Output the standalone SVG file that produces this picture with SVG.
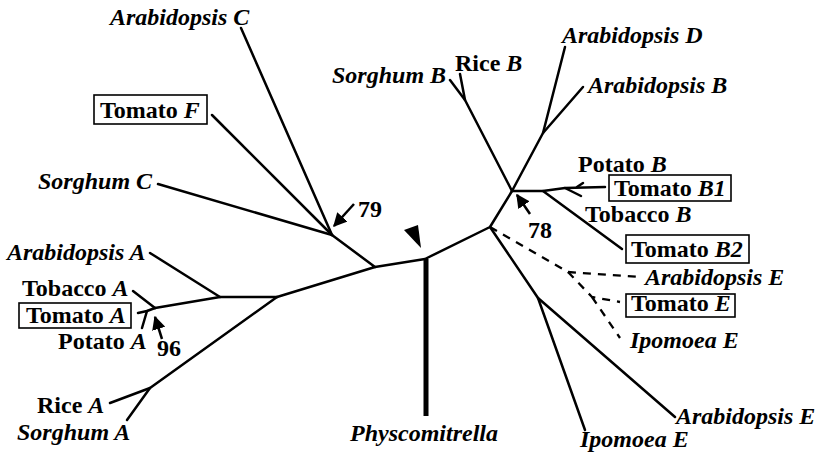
<svg xmlns="http://www.w3.org/2000/svg" width="816" height="458" viewBox="0 0 816 458">
<style>
text{font-family:"Liberation Serif","Times New Roman",serif;font-weight:bold;font-size:24px;fill:#000}
.i{font-style:italic}
.br{fill:none;stroke:#000;stroke-width:2.5;stroke-linecap:round;stroke-linejoin:round}
.da{fill:none;stroke:#000;stroke-width:2.3;stroke-dasharray:8 7}
.bx{fill:none;stroke:#000;stroke-width:1.6}
.ar{fill:none;stroke:#000;stroke-width:2.5}
</style>
<defs>
<marker id="ah" viewBox="0 0 10 10" refX="9" refY="5" markerWidth="5.5" markerHeight="5.5" orient="auto" markerUnits="strokeWidth">
<path d="M0,0 L10,5 L0,10 z" fill="#000"/>
</marker>
</defs>
<rect width="816" height="458" fill="#fff"/>
<g id="connectors">
<polyline class="br" points="375,267 425,259 490,227 512,191"/>
<line x1="426" y1="259" x2="426" y2="416" stroke="#000" stroke-width="5"/>
<polyline class="br" points="277,297 375,267 332,235"/>
<line class="br" x1="332" y1="235" x2="158" y2="184"/>
<line class="br" x1="332" y1="235" x2="212" y2="115"/>
<line class="br" x1="332" y1="235" x2="241" y2="28"/>
<polyline class="br" points="512,191 465,100 450,80"/>
<line class="br" x1="465" y1="100" x2="460" y2="74"/>
<polyline class="br" points="512,191 543,133 565,47"/>
<line class="br" x1="543" y1="133" x2="583" y2="87"/>
<polyline class="br" points="512,191 543,191 565,188 605,187"/>
<line class="br" x1="577" y1="187" x2="583" y2="183"/>
<line class="br" x1="565" y1="188" x2="581" y2="196"/>
<line class="br" x1="543" y1="191" x2="622" y2="249"/>
<polyline class="da" points="490,227 568,272 640,277"/>
<polyline class="da" points="568,272 592,297 620,302"/>
<line class="da" x1="592" y1="297" x2="620" y2="338"/>
<polyline class="br" points="490,227 538,298 675,417"/>
<line class="br" x1="538" y1="298" x2="585" y2="430"/>
<polyline class="br" points="277,297 220,297 155,308"/>
<line class="br" x1="220" y1="297" x2="150" y2="253"/>
<line class="br" x1="155" y1="308" x2="133" y2="291"/>
<polyline class="br" points="155,308 147,311 138,313"/>
<line class="br" x1="147" y1="311" x2="142" y2="328"/>
<polyline class="br" points="277,297 150,388 110,403"/>
<line class="br" x1="150" y1="388" x2="127" y2="420"/>
<line class="ar" x1="354" y1="204" x2="334" y2="226" marker-end="url(#ah)"/>
<line class="ar" x1="530" y1="214" x2="517" y2="195" marker-end="url(#ah)"/>
<line class="ar" x1="162" y1="339" x2="155" y2="317" marker-end="url(#ah)"/>
<polygon points="404,230 418,225 421,248" fill="#000"/>
</g>
<g id="n-arabC"><text x="110" y="25" class="i">Arabidopsis C</text></g>
<g id="n-tomF"><rect class="bx" x="94" y="95" width="113" height="29"/><text x="100" y="118">Tomato <tspan class="i">F</tspan></text></g>
<g id="n-sorC"><text x="38" y="189" class="i">Sorghum C</text></g>
<g id="b79"><text x="358" y="217">79</text></g>
<g id="n-sorB"><text x="332" y="83" class="i">Sorghum B</text></g>
<g id="n-riceB"><text x="455" y="71">Rice <tspan class="i">B</tspan></text></g>
<g id="n-arabD"><text x="562" y="43" class="i">Arabidopsis D</text></g>
<g id="n-arabB"><text x="588" y="93" class="i">Arabidopsis B</text></g>
<g id="n-potB"><text x="578" y="172">Potato <tspan class="i">B</tspan></text></g>
<g id="n-tomB1"><rect class="bx" x="609" y="175" width="122" height="26"/><text x="614" y="196">Tomato <tspan class="i">B1</tspan></text></g>
<g id="n-tobB"><text x="585" y="222">Tobacco <tspan class="i">B</tspan></text></g>
<g id="b78"><text x="528" y="238">78</text></g>
<g id="n-tomB2"><rect class="bx" x="626" y="235" width="123" height="28"/><text x="631" y="257">Tomato <tspan class="i">B2</tspan></text></g>
<g id="n-arabE1"><text x="645" y="285" class="i">Arabidopsis E</text></g>
<g id="n-tomE"><rect class="bx" x="626" y="294" width="109" height="23"/><text x="631" y="311">Tomato <tspan class="i">E</tspan></text></g>
<g id="n-ipoE1"><text x="630" y="348" class="i">Ipomoea E</text></g>
<g id="n-arabE2"><text x="676" y="424" class="i">Arabidopsis E</text></g>
<g id="n-ipoE2"><text x="580" y="447" class="i">Ipomoea E</text></g>
<g id="n-phys"><text x="350" y="441" class="i">Physcomitrella</text></g>
<g id="n-arabA"><text x="7" y="260" class="i">Arabidopsis A</text></g>
<g id="n-tobA"><text x="22" y="296">Tobacco <tspan class="i">A</tspan></text></g>
<g id="n-tomA"><rect class="bx" x="19" y="303" width="112" height="25"/><text x="26" y="323">Tomato <tspan class="i">A</tspan></text></g>
<g id="n-potA"><text x="58" y="349">Potato <tspan class="i">A</tspan></text></g>
<g id="b96"><text x="157" y="356">96</text></g>
<g id="n-riceA"><text x="37" y="413">Rice <tspan class="i">A</tspan></text></g>
<g id="n-sorA"><text x="17" y="440" class="i">Sorghum A</text></g>
</svg>
